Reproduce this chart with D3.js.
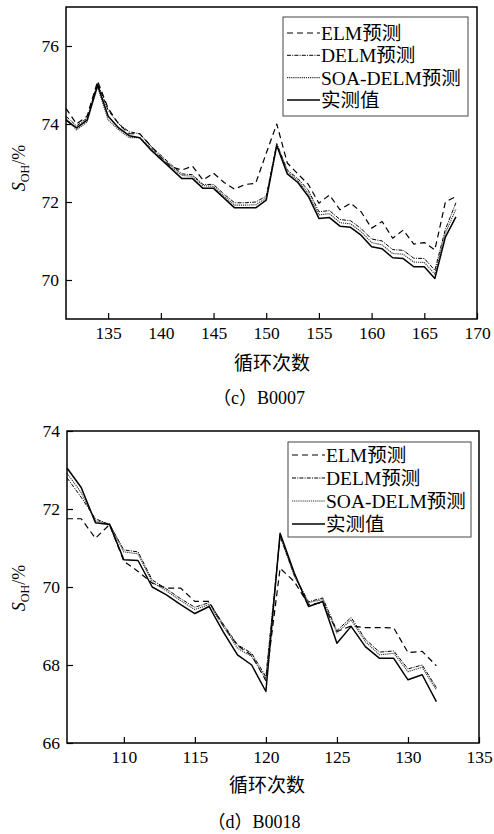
<!DOCTYPE html>
<html><head><meta charset="utf-8">
<script src="https://cdn.jsdelivr.net/npm/d3@7"></script>
<style>
body{margin:0;background:#fff;}
svg text{font-family:"Liberation Serif","Times New Roman","Noto Sans CJK SC",serif !important;fill:#000;}
</style></head>
<body><svg id="c" width="494" height="834"></svg>
<script>
// ---------- data ----------
const cyclesC = [131,132,133,134,135,136,137,138,139,140,141,142,143,144,145,146,147,148,149,150,151,152,153,154,155,156,157,158,159,160,161,162,163,164,165,166,167,168];
const elmC   = [74.4,74.0,74.2,75.1,74.4,74.0,73.75,73.75,73.45,73.15,72.9,72.82,72.92,72.56,72.74,72.5,72.33,72.45,72.48,73.25,74.0,73.0,72.72,72.45,71.97,72.18,71.8,71.97,71.75,71.33,71.5,71.07,71.28,70.92,70.96,70.77,72.0,72.14];
const delmC  = [74.2,73.95,74.15,75.05,74.35,74.0,73.8,73.75,73.45,73.2,72.95,72.72,72.7,72.45,72.45,72.2,71.98,71.98,72.0,72.15,73.5,72.82,72.6,72.3,71.75,71.78,71.55,71.52,71.32,71.05,71.0,70.78,70.76,70.56,70.55,70.25,71.3,71.98];
const soaC   = [74.15,73.85,74.05,74.95,74.1,73.85,73.65,73.65,73.4,73.15,72.9,72.68,72.66,72.42,72.4,72.15,71.92,71.92,71.93,72.1,73.48,72.78,72.55,72.22,71.67,71.7,71.47,71.44,71.24,70.96,70.9,70.68,70.66,70.46,70.45,70.15,71.2,71.82];
const actualC= [74.1,73.9,74.1,75.0,74.2,73.9,73.7,73.65,73.35,73.1,72.85,72.6,72.6,72.35,72.35,72.1,71.85,71.85,71.85,72.05,73.45,72.72,72.5,72.14,71.58,71.6,71.38,71.35,71.15,70.85,70.8,70.57,70.55,70.34,70.34,70.04,71.1,71.62];

const cyclesD = [106,107,108,109,110,111,112,113,114,115,116,117,118,119,120,121,122,123,124,125,126,127,128,129,130,131,132];
const elmD   = [71.75,71.75,71.25,71.6,70.66,70.4,70.1,69.97,69.97,69.63,69.63,69.0,68.5,68.25,67.6,70.48,70.14,69.55,69.6,68.86,69.0,68.96,68.96,68.95,68.32,68.35,67.98];
const delmD  = [72.8,72.3,71.75,71.6,70.95,70.9,70.18,69.95,69.7,69.48,69.6,69.05,68.52,68.3,67.7,71.3,70.3,69.62,69.72,68.88,69.22,68.66,68.33,68.36,67.9,68.0,67.42];
const soaD   = [72.92,72.42,71.7,71.62,70.9,70.85,70.12,69.9,69.65,69.42,69.55,69.0,68.43,68.22,67.65,71.32,70.28,69.6,69.68,68.82,69.16,68.6,68.26,68.3,67.83,67.94,67.36];
const actualD= [73.05,72.55,71.65,71.6,70.7,70.68,70.0,69.8,69.55,69.32,69.5,68.85,68.26,68.0,67.32,71.38,70.36,69.5,69.63,68.56,68.99,68.47,68.17,68.17,67.62,67.75,67.06];

const xTicksC = [135,140,145,150,155,160,165,170];
const yTicksC = [70,72,74,76];
const xTicksD = [110,115,120,125,130,135];
const yTicksD = [66,68,70,72,74];
const legendNames = ["ELM预测","DELM预测","SOA-DELM预测","实测值"];
const xTitle = "循环次数";
const captions = ["（c）B0007","（d）B0018"];

// ---------- styles ----------
const FONT = '"Liberation Serif","Times New Roman","Noto Sans CJK SC",serif';
const styles = [
  {dash:"6,4", w:1.2, c:"#000"},
  {dash:"4,1.2,1,1.2", w:1.0, c:"#000"},
  {dash:"1.2,0.9", w:1.1, c:"#333"},
  {dash:null, w:1.5, c:"#000"}
];

const svg = d3.select("#c");

function panel(cfg){
  const x = d3.scaleLinear(cfg.xd, cfg.xr);
  const y = d3.scaleLinear(cfg.yd, cfg.yr);
  const g = svg.append("g");
  const ax = d3.axisBottom(x).tickValues(cfg.xt).tickSize(-6).tickPadding(8).tickFormat(d3.format("d"));
  const ay = d3.axisLeft(y).tickValues(cfg.yt).tickSize(-6).tickPadding(7).tickFormat(d3.format("d"));
  const gx = g.append("g").attr("transform",`translate(0,${cfg.yr[0]})`).call(ax);
  const gy = g.append("g").attr("transform",`translate(${cfg.xr[0]},0)`).call(ay);
  [gx,gy].forEach(a=>{
    a.attr("font-family",FONT);
    a.select(".domain").remove();
    a.selectAll("line").attr("stroke","#000").attr("stroke-width",1.2);
    a.selectAll("text").style("font-size","17.5px").style("font-family",FONT).attr("fill","#000");
  });
  gx.selectAll("text").attr("dy","0.71em");
  const line = d3.line().x((d,i)=>x(cfg.cycles[i])).y(d=>y(d));
  cfg.series.forEach((s,k)=>{
    const st = styles[k];
    g.append("path").attr("d", line(s)).attr("fill","none")
      .attr("stroke",st.c).attr("stroke-width",st.w)
      .attr("stroke-dasharray",st.dash).attr("stroke-linejoin","round");
  });
  g.append("rect").attr("x",cfg.xr[0]).attr("y",cfg.yr[1])
    .attr("width",cfg.xr[1]-cfg.xr[0]).attr("height",cfg.yr[0]-cfg.yr[1])
    .attr("fill","none").attr("stroke","#000").attr("stroke-width",1.5);
  const L = cfg.leg;
  g.append("rect").attr("x",L.x).attr("y",L.y).attr("width",L.w).attr("height",L.h)
    .attr("fill","#fff").attr("stroke","#444").attr("stroke-width",1);
  legendNames.forEach((n,k)=>{
    const yy = L.y + L.top + k*L.step;
    const st = styles[k];
    g.append("line").attr("x1",L.x+4).attr("x2",L.x+37).attr("y1",yy).attr("y2",yy)
      .attr("stroke",st.c).attr("stroke-width",st.w).attr("stroke-dasharray",st.dash);
    g.append("text").attr("x",L.x+38).attr("y",yy).attr("dy","0.36em")
      .style("font-size","19.5px").style("font-family",FONT).text(n);
  });
  const yt = g.append("text").attr("transform",`translate(${cfg.ylx},${cfg.yly}) rotate(-90)`)
    .attr("text-anchor","middle").style("font-size","18px").style("font-family",FONT);
  yt.append("tspan").style("font-style","italic").text("S");
  yt.append("tspan").attr("dy","4").style("font-size","12px").text("OH");
  yt.append("tspan").attr("dy","-4").text("/%");
  g.append("text").attr("x",cfg.xcx).attr("y",cfg.xty).attr("text-anchor","middle")
    .attr("dy","0.36em").style("font-size","19px").style("font-family",FONT).text(xTitle);
  g.append("text").attr("x",cfg.capx).attr("y",cfg.capy).attr("text-anchor","middle")
    .attr("dy","0.36em").style("font-size","18px").style("font-family",FONT).text(cfg.cap);
}

panel({xd:[131,170], xr:[66,477], yd:[69,77], yr:[319,7], xt:xTicksC, yt:yTicksC,
  cycles:cyclesC, series:[elmC,delmC,soaC,actualC],
  leg:{x:283,y:17,w:185,h:99,top:16,step:22.3},
  ylx:25, yly:168, xcx:272, xty:363, capx:259, capy:398, cap:captions[0]});

panel({xd:[106,135], xr:[67,479], yd:[66,74], yr:[743,431], xt:xTicksD, yt:yTicksD,
  cycles:cyclesD, series:[elmD,delmD,soaD,actualD],
  leg:{x:288,y:442,w:183,h:95,top:13,step:23},
  ylx:25, yly:588, xcx:267, xty:785, capx:254, capy:822, cap:captions[1]});
</script></body></html>
